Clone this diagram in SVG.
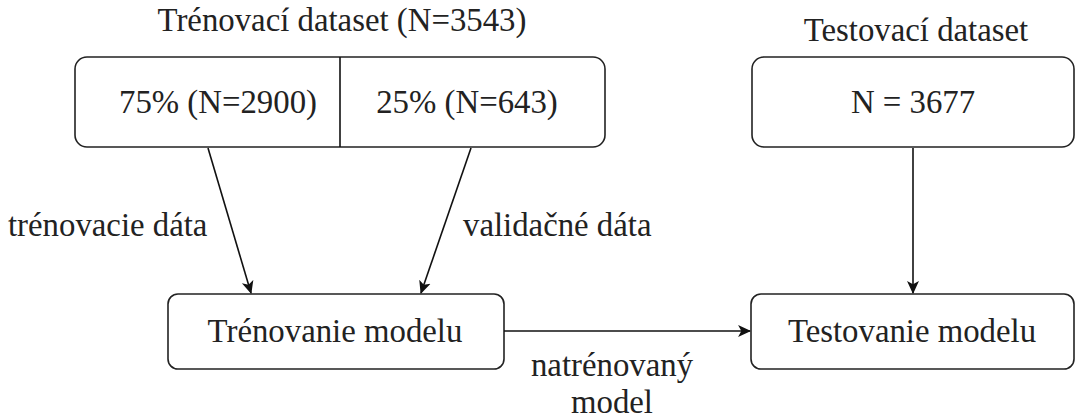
<svg xmlns="http://www.w3.org/2000/svg" width="1077" height="420" viewBox="0 0 1077 420">
<style>
text{font-family:"Liberation Serif","Times New Roman",serif;font-size:32.8px;fill:#222}
.c{text-anchor:middle}
.box{fill:#fff;stroke:#222;stroke-width:1.6}
.edge{stroke:#111;stroke-width:1.6;fill:none}
</style>
<defs>
<marker id="arr" viewBox="0 0 12 12" refX="11" refY="6" markerWidth="13" markerHeight="13" markerUnits="userSpaceOnUse" orient="auto">
<path d="M0,0.5 L12,6 L0,11.5 L3,6 Z" fill="#111"/>
</marker>
</defs>
<rect width="1077" height="420" fill="#fff"/>
<g id="train-dataset">
<text class="c" x="342" y="31">Trénovací dataset (N=3543)</text>
<rect class="box" x="75" y="57" width="530" height="90" rx="12"/>
<line class="edge" x1="340" y1="57" x2="340" y2="147"/>
<text class="c" x="218" y="113">75% (N=2900)</text>
<text class="c" x="467" y="113">25% (N=643)</text>
</g>
<g id="test-dataset">
<text class="c" x="916" y="41">Testovací dataset</text>
<rect class="box" x="752" y="57" width="322" height="90" rx="12"/>
<text class="c" x="913" y="113">N = 3677</text>
</g>
<g id="train-model">
<rect class="box" x="168" y="294" width="336" height="75" rx="10"/>
<text class="c" x="335" y="342">Trénovanie modelu</text>
</g>
<g id="test-model">
<rect class="box" x="751" y="294" width="323" height="75" rx="10"/>
<text class="c" x="912" y="342">Testovanie modelu</text>
</g>
<g id="connectors">
<line class="edge" x1="208" y1="148" x2="251" y2="293" marker-end="url(#arr)"/>
<line class="edge" x1="471" y1="148" x2="421" y2="293" marker-end="url(#arr)"/>
<line class="edge" x1="913" y1="148" x2="913" y2="293" marker-end="url(#arr)"/>
<line class="edge" x1="504" y1="331" x2="750" y2="331" marker-end="url(#arr)"/>
<text x="8" y="236">trénovacie dáta</text>
<text x="463" y="236">validačné dáta</text>
<text class="c" x="612" y="376">natrénovaný</text>
<text class="c" x="612" y="412.5">model</text>
</g>
</svg>
